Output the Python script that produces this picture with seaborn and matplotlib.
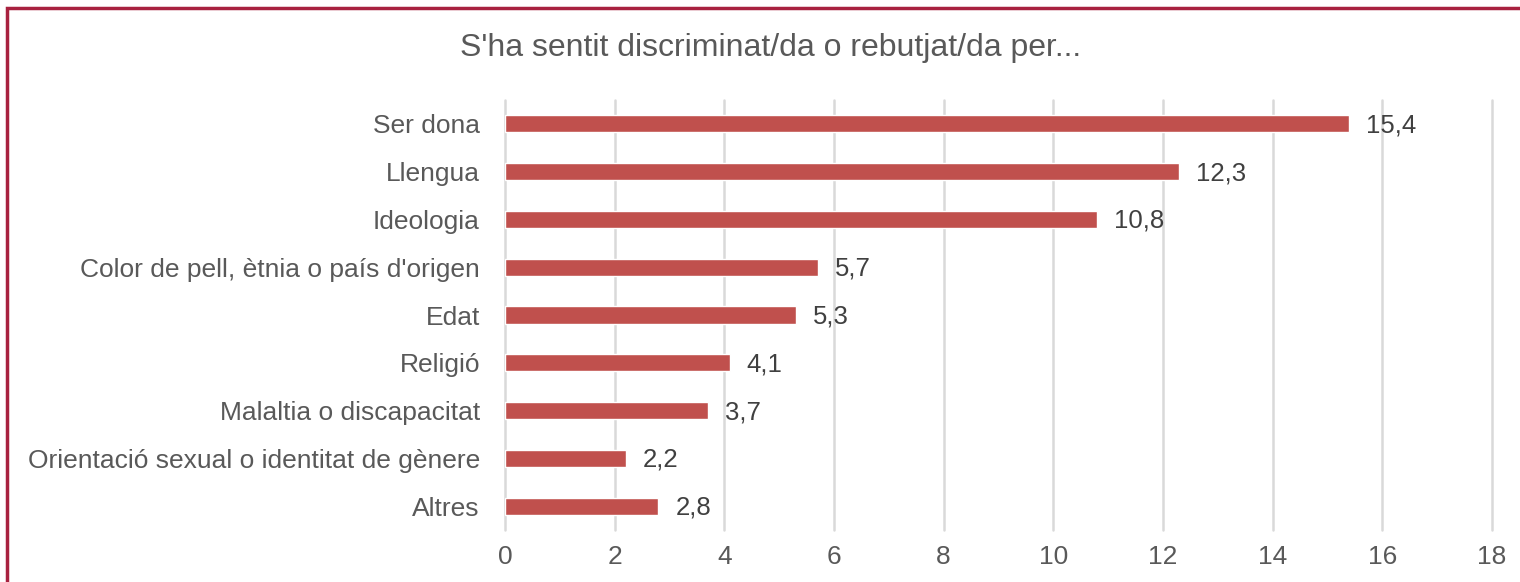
import pandas as pd
import matplotlib.pyplot as plt
import seaborn as sns
from matplotlib.patches import Rectangle

categories = [
    'Ser dona',
    'Llengua',
    'Ideologia',
    "Color de pell, ètnia o país d'origen",
    'Edat',
    'Religió',
    'Malaltia o discapacitat',
    'Orientació sexual o identitat de gènere',
    'Altres',
]
values = [15.4, 12.3, 10.8, 5.7, 5.3, 4.1, 3.7, 2.2, 2.8]
x_ticks = [0, 2, 4, 6, 8, 10, 12, 14, 16, 18]
title = "S'ha sentit discriminat/da o rebutjat/da per..."

df = pd.DataFrame({'categoria': categories, 'valor': values})

sns.set_theme(style='white')
plt.rcParams['font.family'] = ['Liberation Sans', 'DejaVu Sans']

fig = plt.figure(figsize=(15.2, 5.82), dpi=100)
ax = fig.add_axes([0.3322, 0.0893, 0.6494, 0.7389])

sns.barplot(data=df, x='valor', y='categoria', color='#C0504D',
            width=0.36, saturation=1, ax=ax)

# value labels with comma decimals
for i, v in enumerate(values):
    ax.text(v + 0.31, i + 0.03, f'{v:.1f}'.replace('.', ','), va='center', ha='left',
            fontsize=18.5, color='#404040')

ax.set_xlim(0, 18)
ax.set_ylim(8.5, -0.5)
ax.set_xticks(x_ticks)
ax.set_xticklabels([str(t) for t in x_ticks])
ax.xaxis.grid(True, color='#d9d9d9', linewidth=1.8)
for line in ax.get_xgridlines():
    line.set_clip_on(False)
ax.set_axisbelow(True)
ax.set_xlabel('')
ax.set_ylabel('')
for side in ['top', 'right', 'bottom', 'left']:
    ax.spines[side].set_visible(False)
ax.tick_params(axis='both', length=0, labelsize=19, labelcolor='#595959')
ax.tick_params(axis='x', pad=11)
ax.tick_params(axis='y', pad=18)

fig.text(0.507, 0.918, title, ha='center', va='center', fontsize=23, color='#595959')

# chart border, only top and left edges visible
fig.patches.append(Rectangle((7 / 1520, -0.1), 1.2, (582 - 8) / 582 + 0.1,
                             transform=fig.transFigure, fill=False,
                             edgecolor='#A8213F', linewidth=2.5))

fig.savefig('out.png', dpi=100)
